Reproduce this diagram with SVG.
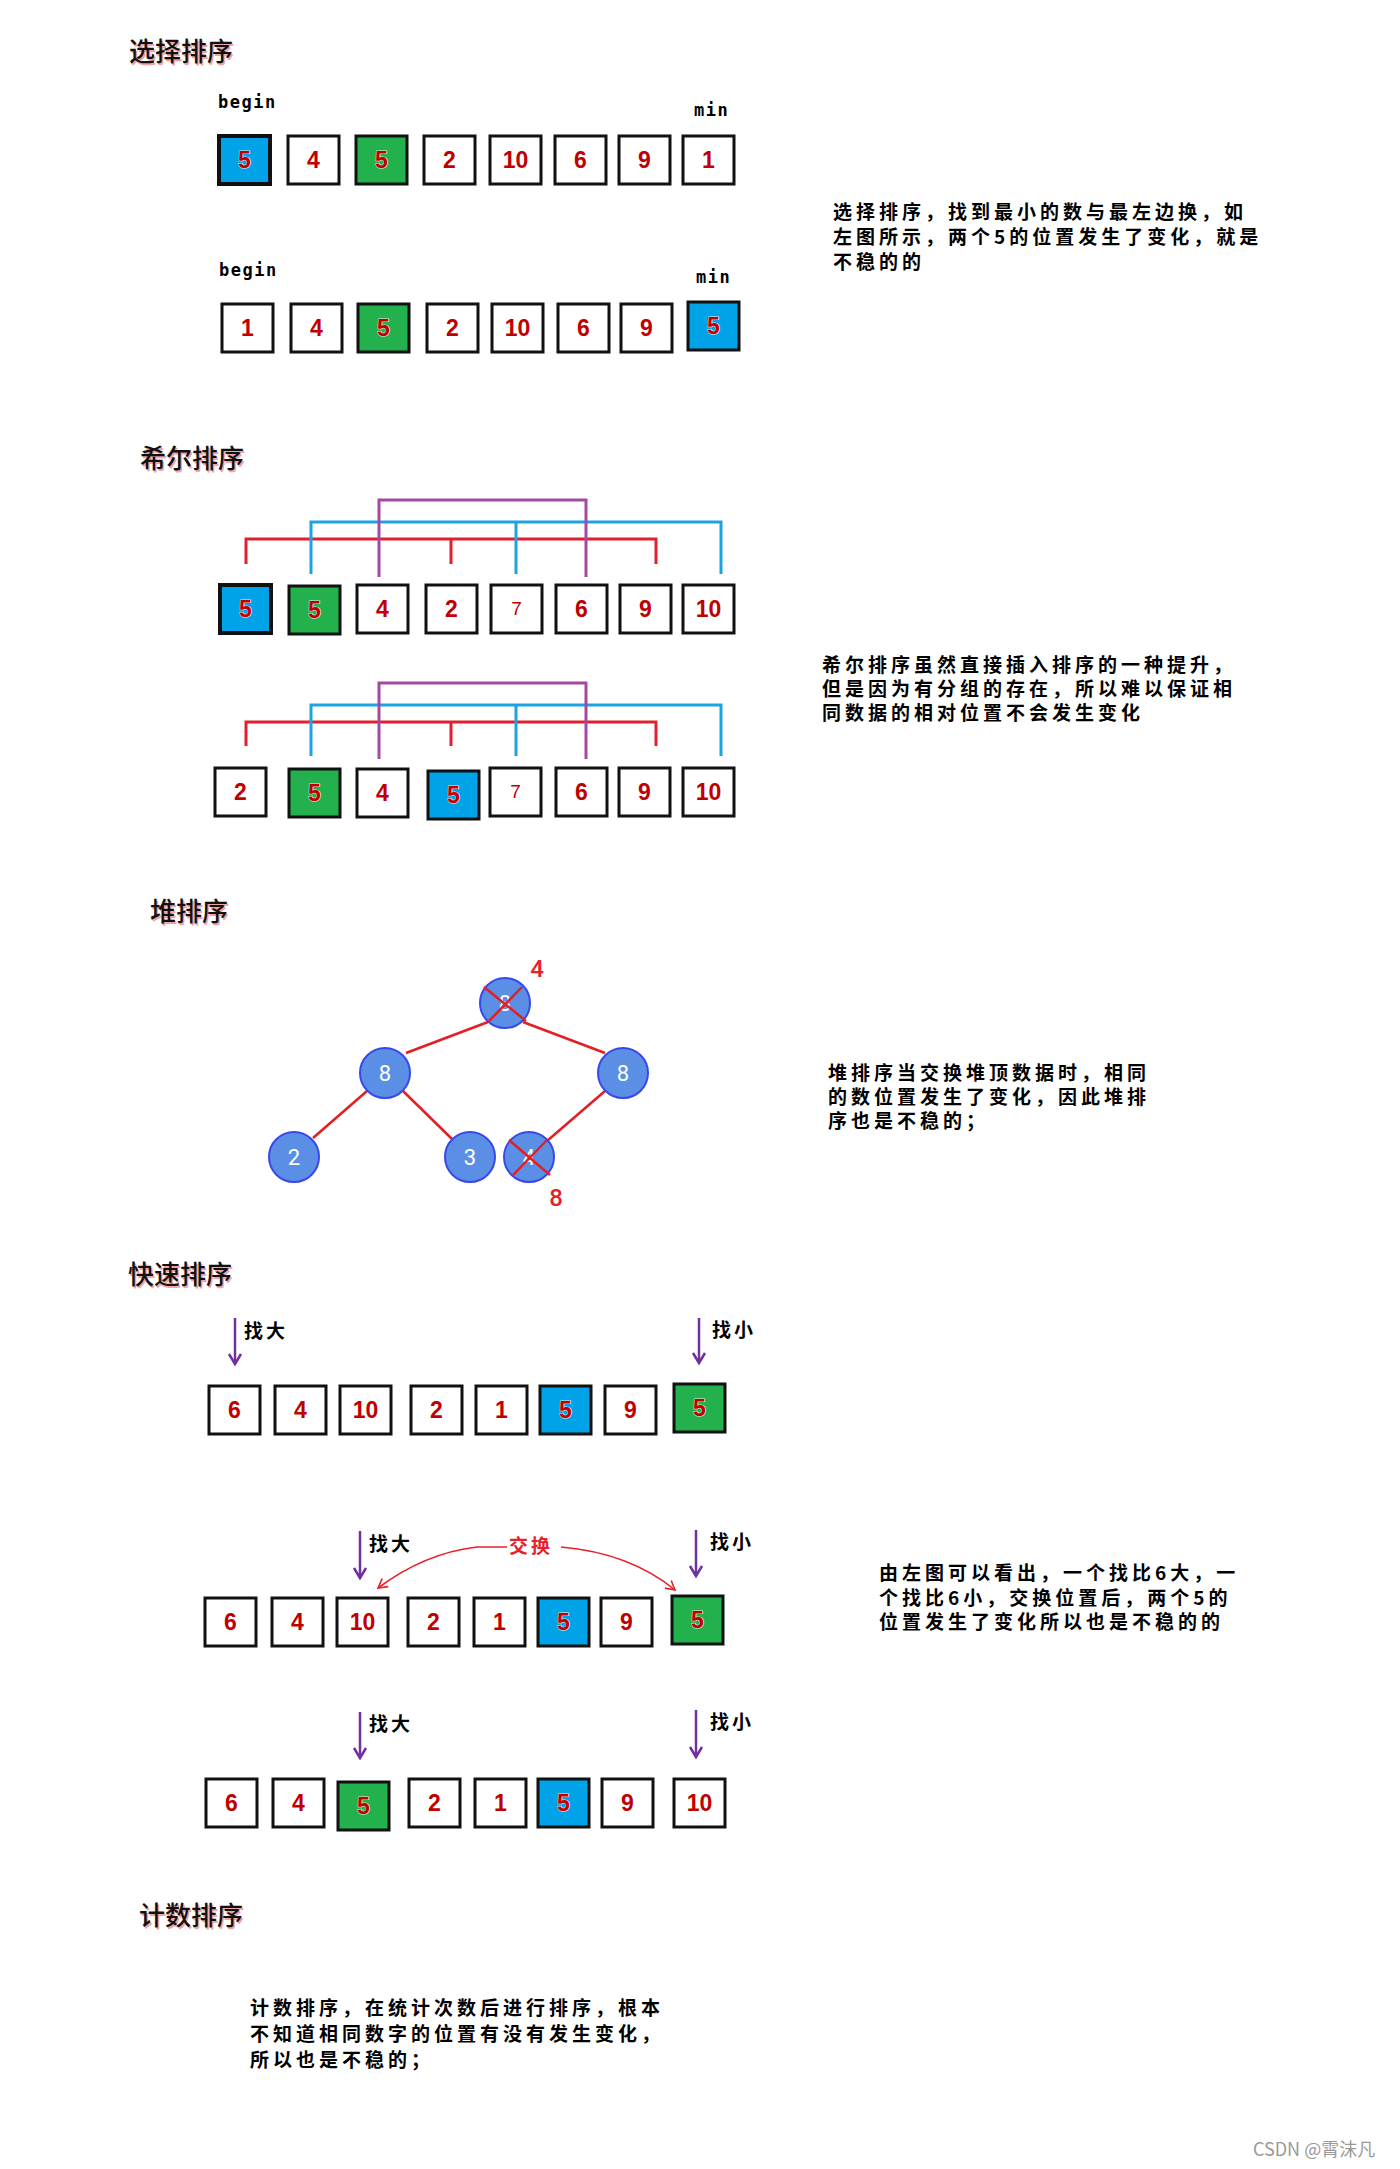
<svg xmlns="http://www.w3.org/2000/svg" width="1400" height="2169" viewBox="0 0 1400 2169">
<defs>
<style>
.bx{fill:#fff;stroke:#111;stroke-width:3}
.bl{fill:#00a2e8}
.gr{fill:#22b14c}
.tk{stroke-width:4}
.n{font-family:"Liberation Sans",Arial,sans-serif;font-weight:bold;font-size:23px;fill:#c00000;text-anchor:middle}
.o{stroke:#f3e3e3;stroke-width:1.2px;paint-order:stroke}
.t{font-weight:normal;font-size:19px}
.ttl{font-family:"Noto Sans CJK SC",sans-serif;font-size:26px;font-weight:500;fill:#111}
.sh{fill:#f2a3a3}
.d{font-family:"Noto Sans CJK SC",sans-serif;font-weight:bold;font-size:19px;letter-spacing:4px;fill:#000}
.lb{font-family:"DejaVu Sans Mono",monospace;font-weight:bold;font-size:17px;letter-spacing:1.5px;fill:#000}
.nd{fill:#5b8fe6;stroke:#3a48ea;stroke-width:2}
.nt{font-family:Roboto,sans-serif;font-size:22px;fill:#fff;text-anchor:middle}
.rl{font-family:Roboto,sans-serif;font-size:24px;font-weight:500;fill:#e8202a;text-anchor:middle}
.ed{stroke:#e31e24;stroke-width:2.5;fill:none}
.pa{stroke:#7030a0;stroke-width:2.5;fill:none}
.sw{stroke:#e8202a;stroke-width:1.6;fill:none}
.br{stroke:#e0202e;stroke-width:3;fill:none}
.bb{stroke:#1ca3e0;stroke-width:3;fill:none}
.bp{stroke:#a349a4;stroke-width:3;fill:none}
.ar{font-family:"Noto Sans CJK SC",sans-serif;font-weight:bold;font-size:19px;letter-spacing:3px;fill:#000}
.xr{font-family:"Noto Sans CJK SC",sans-serif;font-weight:bold;font-size:19px;letter-spacing:3px;fill:#e8202a}
.wm{font-family:"Noto Sans CJK SC",sans-serif;font-size:18px;fill:#9a9a9a}
</style>
<marker id="vh" markerUnits="userSpaceOnUse" markerWidth="16" markerHeight="16" viewBox="0 0 16 16" refX="13" refY="8" orient="auto">
<path d="M3,2 L13,8 L3,14" fill="none" stroke="#7030a0" stroke-width="2.5"/>
</marker>
<marker id="rh" markerUnits="userSpaceOnUse" markerWidth="14" markerHeight="14" viewBox="0 0 14 14" refX="11" refY="7" orient="auto">
<path d="M2,2 L11,7 L2,12" fill="none" stroke="#e8202a" stroke-width="1.6"/>
</marker>
</defs>
<rect width="1400" height="2169" fill="#fff"/>

<!-- Titles -->
<g id="title-select"><text class="ttl sh" x="130.5" y="62.5">选择排序</text><text class="ttl" x="129" y="61">选择排序</text></g>
<g id="title-shell"><text class="ttl sh" x="141.5" y="469.5">希尔排序</text><text class="ttl" x="140" y="468">希尔排序</text></g>
<g id="title-heap"><text class="ttl sh" x="151.5" y="922.5">堆排序</text><text class="ttl" x="150" y="921">堆排序</text></g>
<g id="title-quick"><text class="ttl sh" x="129.5" y="1285.5">快速排序</text><text class="ttl" x="128" y="1284">快速排序</text></g>
<g id="title-count"><text class="ttl sh" x="140.5" y="1926.5">计数排序</text><text class="ttl" x="139" y="1925">计数排序</text></g>

<!-- Connectors -->
<g id="connectors">
<path class="br" d="M246,564 V539 H656 V564 M451,539 V564"/>
<path class="bb" d="M311,574 V522 H721 V574 M516,522 V574"/>
<path class="bp" d="M379,577 V500 H586 V577"/>
<path class="br" d="M246,746 V722 H656 V746 M451,722 V746"/>
<path class="bb" d="M311,756 V705 H721 V756 M516,705 V756"/>
<path class="bp" d="M379,759 V683 H586 V759"/>
<line class="ed" x1="488" y1="1022" x2="406" y2="1053"/>
<line class="ed" x1="523" y1="1022" x2="605" y2="1053"/>
<line class="ed" x1="367" y1="1091" x2="313" y2="1138"/>
<line class="ed" x1="403" y1="1091" x2="452" y2="1139"/>
<line class="ed" x1="605" y1="1091" x2="547" y2="1141"/>
<line class="pa" x1="235" y1="1318" x2="235" y2="1364" marker-end="url(#vh)"/>
<line class="pa" x1="699" y1="1318" x2="699" y2="1363" marker-end="url(#vh)"/>
<line class="pa" x1="360" y1="1531" x2="360" y2="1578" marker-end="url(#vh)"/>
<line class="pa" x1="696" y1="1530" x2="696" y2="1576" marker-end="url(#vh)"/>
<line class="pa" x1="360" y1="1712" x2="360" y2="1758" marker-end="url(#vh)"/>
<line class="pa" x1="696" y1="1710" x2="696" y2="1757" marker-end="url(#vh)"/>
<path class="sw" d="M507,1547 L477,1547 Q425,1553 378,1588" marker-end="url(#rh)"/>
<path class="sw" d="M561,1547 Q630,1553 675,1590" marker-end="url(#rh)"/>
</g>

<!-- Selection sort -->
<text class="lb" x="218" y="108">begin</text>
<text class="lb" x="694" y="116">min</text>
<g id="s1b1"><rect class="bx bl tk" x="219" y="136" width="51" height="48"/><text class="n o" x="244.5" y="168">5</text></g>
<g id="s1b2"><rect class="bx" x="288" y="136" width="51" height="48"/><text class="n" x="313.5" y="168">4</text></g>
<g id="s1b3"><rect class="bx gr" x="356" y="136" width="51" height="48"/><text class="n o" x="381.5" y="168">5</text></g>
<g id="s1b4"><rect class="bx" x="424" y="136" width="51" height="48"/><text class="n" x="449.5" y="168">2</text></g>
<g id="s1b5"><rect class="bx" x="490" y="136" width="51" height="48"/><text class="n" x="515.5" y="168">10</text></g>
<g id="s1b6"><rect class="bx" x="555" y="136" width="51" height="48"/><text class="n" x="580.5" y="168">6</text></g>
<g id="s1b7"><rect class="bx" x="619" y="136" width="51" height="48"/><text class="n" x="644.5" y="168">9</text></g>
<g id="s1b8"><rect class="bx" x="683" y="136" width="51" height="48"/><text class="n" x="708.5" y="168">1</text></g>

<text class="lb" x="219" y="276">begin</text>
<text class="lb" x="696" y="283">min</text>
<g id="s2b1"><rect class="bx" x="222" y="304" width="51" height="48"/><text class="n" x="247.5" y="336">1</text></g>
<g id="s2b2"><rect class="bx" x="291" y="304" width="51" height="48"/><text class="n" x="316.5" y="336">4</text></g>
<g id="s2b3"><rect class="bx gr" x="358" y="304" width="51" height="48"/><text class="n o" x="383.5" y="336">5</text></g>
<g id="s2b4"><rect class="bx" x="427" y="304" width="51" height="48"/><text class="n" x="452.5" y="336">2</text></g>
<g id="s2b5"><rect class="bx" x="492" y="304" width="51" height="48"/><text class="n" x="517.5" y="336">10</text></g>
<g id="s2b6"><rect class="bx" x="558" y="304" width="51" height="48"/><text class="n" x="583.5" y="336">6</text></g>
<g id="s2b7"><rect class="bx" x="621" y="304" width="51" height="48"/><text class="n" x="646.5" y="336">9</text></g>
<g id="s2b8"><rect class="bx bl" x="688" y="302" width="51" height="48"/><text class="n o" x="713.5" y="334">5</text></g>

<g id="desc-select">
<text class="d" x="833" y="219">选择排序，找到最小的数与最左边换，如</text>
<text class="d" x="833" y="244">左图所示，两个5的位置发生了变化，就是</text>
<text class="d" x="833" y="269">不稳的的</text>
</g>

<!-- Shell sort -->
<g id="h1b1"><rect class="bx bl tk" x="220" y="585" width="51" height="48"/><text class="n o" x="245.5" y="617">5</text></g>
<g id="h1b2"><rect class="bx gr" x="289" y="586" width="51" height="48"/><text class="n o" x="314.5" y="618">5</text></g>
<g id="h1b3"><rect class="bx" x="357" y="585" width="51" height="48"/><text class="n" x="382.5" y="617">4</text></g>
<g id="h1b4"><rect class="bx" x="426" y="585" width="51" height="48"/><text class="n" x="451.5" y="617">2</text></g>
<g id="h1b5"><rect class="bx" x="491" y="585" width="51" height="48"/><text class="n t" x="516.5" y="615">7</text></g>
<g id="h1b6"><rect class="bx" x="556" y="585" width="51" height="48"/><text class="n" x="581.5" y="617">6</text></g>
<g id="h1b7"><rect class="bx" x="620" y="585" width="51" height="48"/><text class="n" x="645.5" y="617">9</text></g>
<g id="h1b8"><rect class="bx" x="683" y="585" width="51" height="48"/><text class="n" x="708.5" y="617">10</text></g>

<g id="h2b1"><rect class="bx" x="215" y="768" width="51" height="48"/><text class="n" x="240.5" y="800">2</text></g>
<g id="h2b2"><rect class="bx gr" x="289" y="769" width="51" height="48"/><text class="n o" x="314.5" y="801">5</text></g>
<g id="h2b3"><rect class="bx" x="357" y="769" width="51" height="48"/><text class="n" x="382.5" y="801">4</text></g>
<g id="h2b4"><rect class="bx bl" x="428" y="771" width="51" height="48"/><text class="n o" x="453.5" y="803">5</text></g>
<g id="h2b5"><rect class="bx" x="490" y="768" width="51" height="48"/><text class="n t" x="515.5" y="798">7</text></g>
<g id="h2b6"><rect class="bx" x="556" y="768" width="51" height="48"/><text class="n" x="581.5" y="800">6</text></g>
<g id="h2b7"><rect class="bx" x="619" y="768" width="51" height="48"/><text class="n" x="644.5" y="800">9</text></g>
<g id="h2b8"><rect class="bx" x="683" y="768" width="51" height="48"/><text class="n" x="708.5" y="800">10</text></g>

<g id="desc-shell">
<text class="d" x="822" y="672">希尔排序虽然直接插入排序的一种提升，</text>
<text class="d" x="822" y="696">但是因为有分组的存在，所以难以保证相</text>
<text class="d" x="822" y="720">同数据的相对位置不会发生变化</text>
</g>

<!-- Heap sort -->
<g id="node-root"><circle class="nd" cx="505" cy="1003" r="25"/><text class="nt" x="505" y="1011">8</text>
<path class="ed" d="M484,987 L526,1021 M522,987 L488,1022"/></g>
<g id="node-l8"><circle class="nd" cx="385" cy="1073" r="25"/><text class="nt" x="385" y="1081">8</text></g>
<g id="node-r8"><circle class="nd" cx="623" cy="1073" r="25"/><text class="nt" x="623" y="1081">8</text></g>
<g id="node-2"><circle class="nd" cx="294" cy="1157" r="25"/><text class="nt" x="294" y="1165">2</text></g>
<g id="node-3"><circle class="nd" cx="470" cy="1157" r="25"/><text class="nt" x="470" y="1165">3</text></g>
<g id="node-4"><circle class="nd" cx="529" cy="1157" r="25"/><text class="nt" x="529" y="1165">4</text>
<path class="ed" d="M509,1140 L550,1175 M547,1140 L513,1175"/></g>
<text class="rl" x="537" y="977">4</text>
<text class="rl" x="556" y="1206">8</text>

<g id="desc-heap">
<text class="d" x="828" y="1080">堆排序当交换堆顶数据时，相同</text>
<text class="d" x="828" y="1104">的数位置发生了变化，因此堆排</text>
<text class="d" x="828" y="1128">序也是不稳的；</text>
</g>

<!-- Quick sort -->
<text class="ar" x="244" y="1338">找大</text>
<text class="ar" x="712" y="1337">找小</text>
<g id="q1b1"><rect class="bx" x="209" y="1386" width="51" height="48"/><text class="n" x="234.5" y="1418">6</text></g>
<g id="q1b2"><rect class="bx" x="275" y="1386" width="51" height="48"/><text class="n" x="300.5" y="1418">4</text></g>
<g id="q1b3"><rect class="bx" x="340" y="1386" width="51" height="48"/><text class="n" x="365.5" y="1418">10</text></g>
<g id="q1b4"><rect class="bx" x="411" y="1386" width="51" height="48"/><text class="n" x="436.5" y="1418">2</text></g>
<g id="q1b5"><rect class="bx" x="476" y="1386" width="51" height="48"/><text class="n" x="501.5" y="1418">1</text></g>
<g id="q1b6"><rect class="bx bl" x="540" y="1386" width="51" height="48"/><text class="n o" x="565.5" y="1418">5</text></g>
<g id="q1b7"><rect class="bx" x="605" y="1386" width="51" height="48"/><text class="n" x="630.5" y="1418">9</text></g>
<g id="q1b8"><rect class="bx gr" x="674" y="1384" width="51" height="48"/><text class="n o" x="699.5" y="1416">5</text></g>

<text class="ar" x="369" y="1551">找大</text>
<text class="xr" x="509" y="1553">交换</text>
<text class="ar" x="710" y="1549">找小</text>
<g id="q2b1"><rect class="bx" x="205" y="1598" width="51" height="48"/><text class="n" x="230.5" y="1630">6</text></g>
<g id="q2b2"><rect class="bx" x="272" y="1598" width="51" height="48"/><text class="n" x="297.5" y="1630">4</text></g>
<g id="q2b3"><rect class="bx" x="337" y="1598" width="51" height="48"/><text class="n" x="362.5" y="1630">10</text></g>
<g id="q2b4"><rect class="bx" x="408" y="1598" width="51" height="48"/><text class="n" x="433.5" y="1630">2</text></g>
<g id="q2b5"><rect class="bx" x="474" y="1598" width="51" height="48"/><text class="n" x="499.5" y="1630">1</text></g>
<g id="q2b6"><rect class="bx bl" x="538" y="1598" width="51" height="48"/><text class="n o" x="563.5" y="1630">5</text></g>
<g id="q2b7"><rect class="bx" x="601" y="1598" width="51" height="48"/><text class="n" x="626.5" y="1630">9</text></g>
<g id="q2b8"><rect class="bx gr" x="672" y="1596" width="51" height="48"/><text class="n o" x="697.5" y="1628">5</text></g>

<text class="ar" x="369" y="1731">找大</text>
<text class="ar" x="710" y="1729">找小</text>
<g id="q3b1"><rect class="bx" x="206" y="1779" width="51" height="48"/><text class="n" x="231.5" y="1811">6</text></g>
<g id="q3b2"><rect class="bx" x="273" y="1779" width="51" height="48"/><text class="n" x="298.5" y="1811">4</text></g>
<g id="q3b3"><rect class="bx gr" x="338" y="1782" width="51" height="48"/><text class="n o" x="363.5" y="1814">5</text></g>
<g id="q3b4"><rect class="bx" x="409" y="1779" width="51" height="48"/><text class="n" x="434.5" y="1811">2</text></g>
<g id="q3b5"><rect class="bx" x="475" y="1779" width="51" height="48"/><text class="n" x="500.5" y="1811">1</text></g>
<g id="q3b6"><rect class="bx bl" x="538" y="1779" width="51" height="48"/><text class="n o" x="563.5" y="1811">5</text></g>
<g id="q3b7"><rect class="bx" x="602" y="1779" width="51" height="48"/><text class="n" x="627.5" y="1811">9</text></g>
<g id="q3b8"><rect class="bx" x="674" y="1779" width="51" height="48"/><text class="n" x="699.5" y="1811">10</text></g>

<g id="desc-quick">
<text class="d" x="879" y="1580">由左图可以看出，一个找比6大，一</text>
<text class="d" x="879" y="1605">个找比6小，交换位置后，两个5的</text>
<text class="d" x="879" y="1629">位置发生了变化所以也是不稳的的</text>
</g>

<!-- Counting sort -->
<g id="desc-count">
<text class="d" x="250" y="2015">计数排序，在统计次数后进行排序，根本</text>
<text class="d" x="250" y="2041">不知道相同数字的位置有没有发生变化，</text>
<text class="d" x="250" y="2067">所以也是不稳的；</text>
</g>

<text class="wm" x="1253" y="2156">CSDN @霄沫凡</text>
</svg>
